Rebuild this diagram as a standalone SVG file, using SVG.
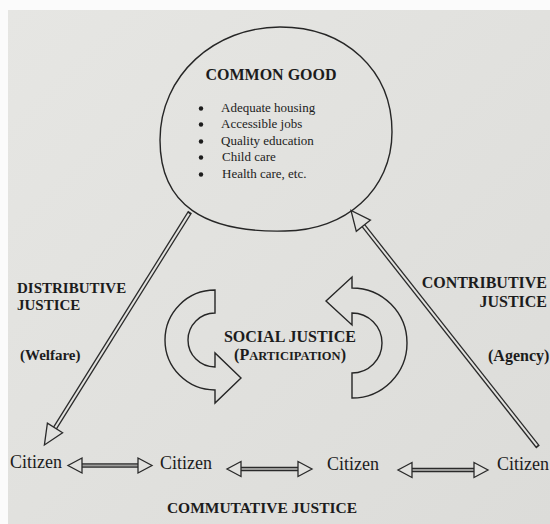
<svg xmlns="http://www.w3.org/2000/svg" width="550" height="524" viewBox="0 0 550 524">
  <style>
    .serif { font-family: "Liberation Serif", "Times New Roman", serif; fill: #1c1c1c; }
    .bold { font-weight: bold; }
    .outline { fill: none; stroke: #262626; stroke-width: 1.4; }
    .dline-outer { stroke: #2a2a2a; stroke-width: 4.6; fill: none; }
    .dline-inner { stroke: #e2e2df; stroke-width: 2; fill: none; }
    .hline-inner { stroke: #9c9c9a; stroke-width: 2; fill: none; }
    .head { fill: #e2e2df; stroke: #2a2a2a; stroke-width: 1.3; stroke-linejoin: miter; }
  </style>
  <defs>
    <linearGradient id="paper" x1="0" y1="0" x2="1" y2="1">
      <stop offset="0" stop-color="#e6e6e3"/>
      <stop offset="1" stop-color="#dcdcd9"/>
    </linearGradient>
  </defs>

  <rect x="0" y="0" width="550" height="524" fill="#fbfbfb"/>
  <rect x="8" y="10" width="542" height="514" fill="url(#paper)"/>

  <!-- Common good node -->
  <g id="node-common-good">
    <path class="outline" d="M280,27 C345,27 392,70 392,132 C392,190 345,231 285,231 C205,233 160,205 160,140 C160,75 215,27 280,27 Z"/>
    <text class="serif bold" x="271" y="80" font-size="16" text-anchor="middle">COMMON GOOD</text>
    <g class="serif" font-size="13">
      <circle cx="201" cy="108.5" r="2.2" fill="#1c1c1c"/>
      <text x="221" y="112">Adequate housing</text>
      <circle cx="201" cy="124.5" r="2.2" fill="#1c1c1c"/>
      <text x="221" y="128">Accessible jobs</text>
      <circle cx="201" cy="141.5" r="2.2" fill="#1c1c1c"/>
      <text x="221" y="145">Quality education</text>
      <circle cx="201" cy="157.5" r="2.2" fill="#1c1c1c"/>
      <text x="222" y="161">Child care</text>
      <circle cx="201" cy="174.5" r="2.2" fill="#1c1c1c"/>
      <text x="222" y="178">Health care, etc.</text>
    </g>
  </g>

  <!-- Citizens -->
  <g id="node-citizen-1"><text class="serif" x="10" y="468" font-size="18">Citizen</text></g>
  <g id="node-citizen-2"><text class="serif" x="160" y="469" font-size="18">Citizen</text></g>
  <g id="node-citizen-3"><text class="serif" x="327" y="470" font-size="18">Citizen</text></g>
  <g id="node-citizen-4"><text class="serif" x="497" y="470" font-size="18">Citizen</text></g>

  <!-- Social justice (participation) node -->
  <g id="node-social-justice">
    <path class="outline" d="M215,290 L215,313 A27,27 0 0 0 215,367 L215,353 L241,378 L215,403 L215,390 A50,50 0 0 1 215,290 Z"/>
    <path class="outline" d="M352,373 L352,398 A55,55 0 0 0 352,288 L352,277 L326,301 L352,325 L352,313 A30,30 0 0 1 352,373 Z"/>
    <text class="serif bold" x="290" y="342" font-size="16" text-anchor="middle">SOCIAL JUSTICE</text>
    <text class="serif bold" x="290" y="360" font-size="16" text-anchor="middle">(P<tspan font-size="12.5">ARTICIPATION</tspan>)</text>
  </g>

  <!-- Labels -->
  <g id="label-distributive" class="serif bold" font-size="15">
    <text x="17" y="293">DISTRIBUTIVE</text>
    <text x="17" y="310">JUSTICE</text>
    <text x="20" y="360">(Welfare)</text>
  </g>
  <g id="label-contributive" class="serif bold" font-size="16">
    <text x="547" y="288" text-anchor="end">CONTRIBUTIVE</text>
    <text x="547" y="307" text-anchor="end">JUSTICE</text>
    <text x="488" y="361">(Agency)</text>
  </g>
  <g id="label-commutative">
    <text class="serif bold" x="262" y="513" font-size="15.5" text-anchor="middle">COMMUTATIVE JUSTICE</text>
  </g>

  <!-- Connectors -->
  <g id="connectors">
    <!-- Distributive: common good to citizen -->
    <line class="dline-outer" x1="190" y1="212" x2="55" y2="428"/>
    <line class="dline-inner" x1="189" y1="213.6" x2="55" y2="428"/>
    <polygon class="head" points="62.6,432.8 47.4,423.2 44.4,445"/>

    <!-- Contributive: citizen to common good -->
    <line class="dline-outer" x1="538" y1="447" x2="363.4" y2="225.7"/>
    <line class="dline-inner" x1="537" y1="445.7" x2="363.4" y2="225.7"/>
    <polygon class="head" points="370.5,220.1 356.3,231.3 351,210.5"/>

    <!-- Commutative arrows -->
    <line class="dline-outer" x1="82" y1="465.5" x2="138" y2="465.5"/>
    <line class="hline-inner" x1="82" y1="465.5" x2="138" y2="465.5"/>
    <polygon class="head" points="82,458 82,473 68,465.5"/>
    <polygon class="head" points="138,458 138,473 152,465.5"/>

    <line class="dline-outer" x1="241" y1="469" x2="298" y2="469"/>
    <line class="hline-inner" x1="241" y1="469" x2="298" y2="469"/>
    <polygon class="head" points="241,461.5 241,476.5 227,469"/>
    <polygon class="head" points="298,461.5 298,476.5 312,469"/>

    <line class="dline-outer" x1="412" y1="470" x2="474" y2="470"/>
    <line class="hline-inner" x1="412" y1="470" x2="474" y2="470"/>
    <polygon class="head" points="412,462.5 412,477.5 398,470"/>
    <polygon class="head" points="474,462.5 474,477.5 488,470"/>
  </g>
</svg>
